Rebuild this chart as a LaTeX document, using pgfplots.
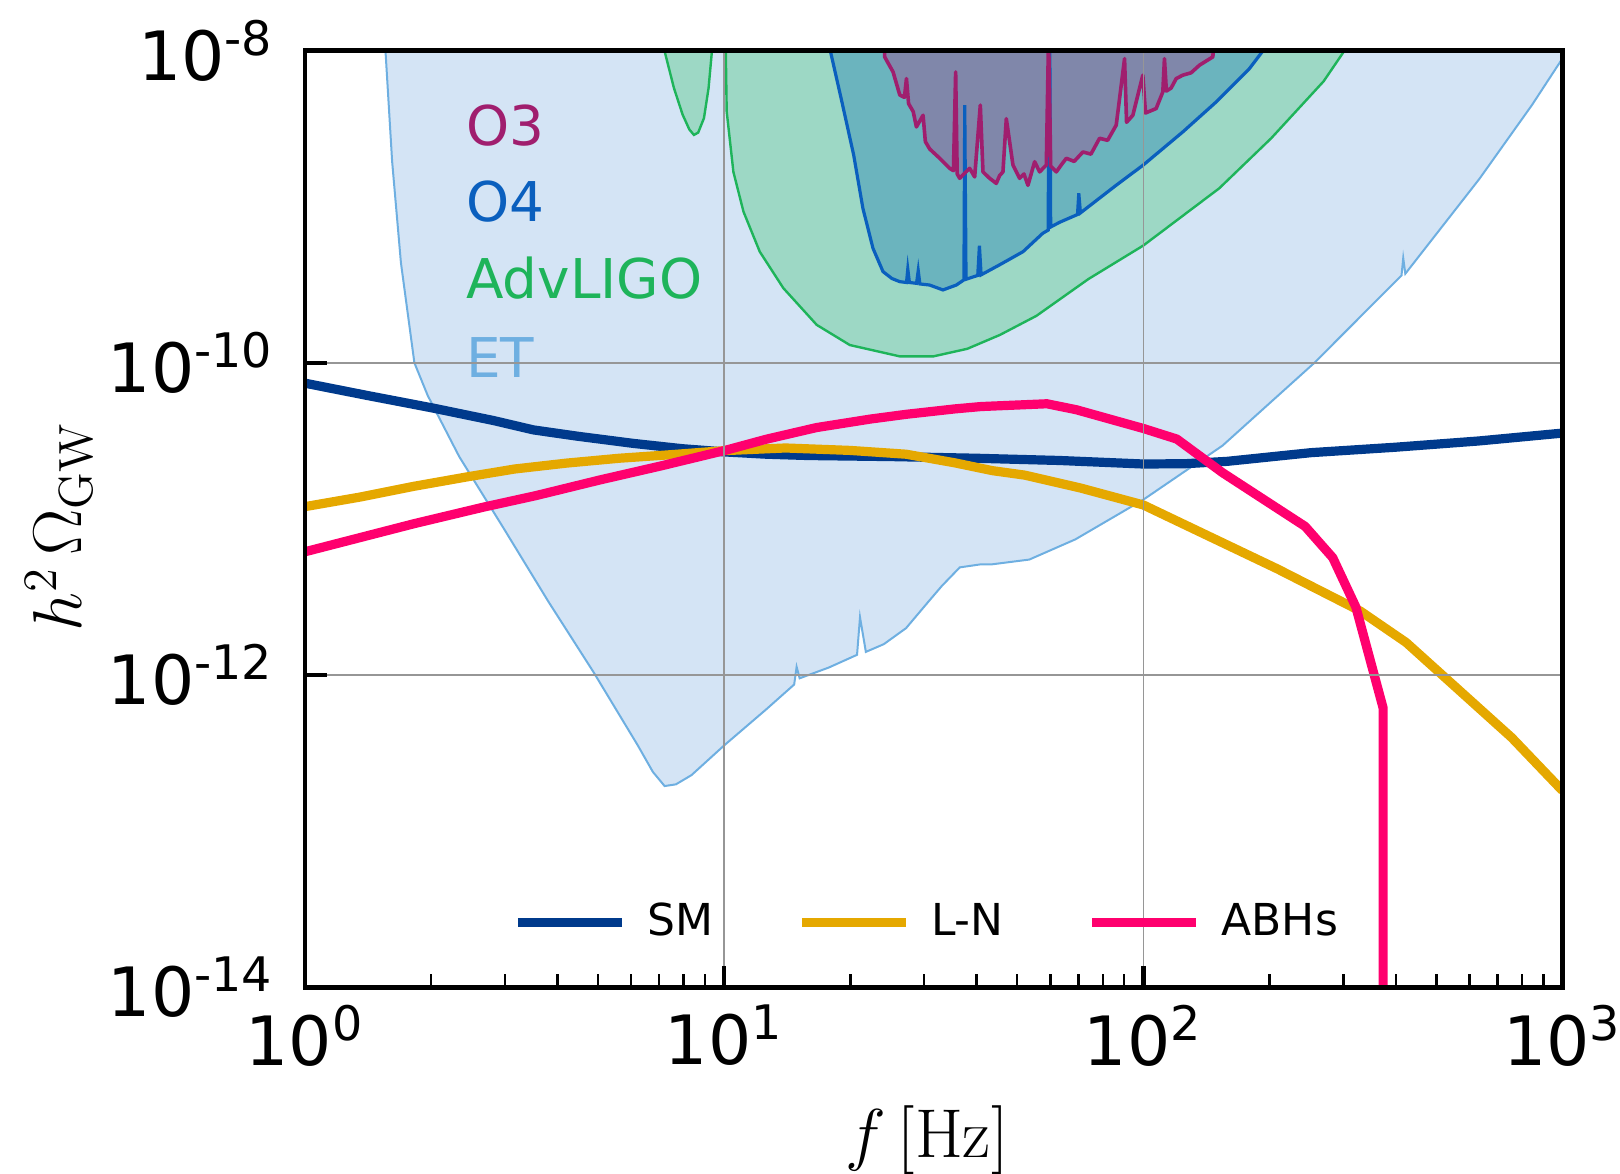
\documentclass[border=0pt]{standalone}
\usepackage[no-math]{fontspec}
\setmainfont{DejaVu Sans}
\usepackage{pgfplots}
\usepackage{pgfplotstable}
\pgfplotsset{compat=1.18}

\definecolor{etfill}{HTML}{D4E4F5}
\definecolor{etedge}{HTML}{6EAFE1}
\definecolor{ligofill}{HTML}{9DD8C5}
\definecolor{ligoedge}{HTML}{1EB45A}
\definecolor{ofourfill}{HTML}{6BB4BE}
\definecolor{ofouredge}{HTML}{0A5FBE}
\definecolor{othreefill}{HTML}{8087AA}
\definecolor{othreeedge}{HTML}{A01E6E}
\definecolor{smc}{HTML}{003A8C}
\definecolor{lnc}{HTML}{E5A800}
\definecolor{abhc}{HTML}{FF006E}

\pgfplotstableread{
f o
17.58 3.16e-8
17.91 1.0e-8
19.1 4.68e-9
20.37 2.14e-9
21.43 9.75e-10
22.65 5.41e-10
23.93 3.84e-10
25.12 3.47e-10
26.24 3.31e-10
27.23 3.27e-10
27.42 3.98e-10
27.67 3.27e-10
28.77 3.23e-10
29.04 3.89e-10
29.31 3.2e-10
30.9 3.15e-10
33.27 2.93e-10
35.81 3.15e-10
37.33 3.4e-10
37.5 4.47e-9
37.76 3.43e-10
40.27 3.63e-10
40.64 5.62e-10
41.02 3.66e-10
45.39 4.24e-10
51.64 5.15e-10
57.54 6.75e-10
59.29 7.08e-10
59.7 3.16e-8
60.12 7.41e-10
63.1 7.94e-10
69.66 8.91e-10
70.15 1.22e-9
70.79 9.12e-10
86.1 1.37e-9
100 1.85e-9
124.2 3.01e-9
149.3 4.69e-9
179.1 7.66e-9
193.2 1.0e-8
208.9 3.16e-8
}\ofour

\pgfplotstableread{
f o
23.88 3.16e-8
24.15 9.10e-9
25.29 7.29e-9
26.24 5.19e-9
26.92 5.01e-9
27.22 6.61e-9
27.54 4.57e-9
28.25 4.06e-9
28.75 3.24e-9
29.82 3.85e-9
30.2 2.61e-9
30.93 2.34e-9
32.68 2.04e-9
34.51 1.76e-9
35.24 1.70e-9
35.67 7.29e-9
35.97 1.62e-9
36.47 1.52e-9
37.5 1.64e-9
38.52 1.76e-9
39.6 1.55e-9
40.84 4.47e-9
41.44 1.67e-9
42.98 1.52e-9
44.59 1.41e-9
45.4 1.58e-9
46.25 1.67e-9
47.11 3.66e-9
48.86 1.85e-9
50.68 1.52e-9
51.9 1.62e-9
53.06 1.37e-9
55.04 1.94e-9
56.58 1.67e-9
58.69 1.85e-9
59.43 1.26e-8
60.12 1.82e-9
62.0 1.67e-9
63.8 1.86e-9
65.5 2.04e-9
68.4 1.95e-9
71.76 2.24e-9
75.0 2.17e-9
78.64 2.74e-9
82.2 2.66e-9
86.17 3.33e-9
90.20 8.87e-9
91.2 3.47e-9
94.41 3.85e-9
99.72 6.95e-9
101.2 3.98e-9
107.3 4.25e-9
111.3 5.43e-9
112.3 8.87e-9
113.5 5.50e-9
116.5 5.75e-9
119.8 6.61e-9
124.2 6.95e-9
130.0 7.20e-9
136.1 8.05e-9
146.5 9.10e-9
151.4 3.16e-8
}\othree

\newcommand\tickfont{\fontsize{17}{20}\selectfont}

\begin{document}
\begin{tikzpicture}
\path[use as bounding box] (-76.25pt,-46.625pt) rectangle (328.75pt,246.875pt);
\begin{axis}[
  scale only axis,
  width=314.375pt, height=234.25pt,
  xmode=log, ymode=log,
  xmin=1, xmax=1000, ymin=1e-14, ymax=1e-8,
  axis on top,
  xtick={1,10,100,1000},
  xticklabels={10\textsuperscript{0},10\textsuperscript{1},10\textsuperscript{2},10\textsuperscript{3}},
  minor xtick={2,3,4,5,6,7,8,9,20,30,40,50,60,70,80,90,200,300,400,500,600,700,800,900},
  ytick={1e-14,1e-12,1e-10,1e-8},
  yticklabels={10\textsuperscript{-14},10\textsuperscript{-12},10\textsuperscript{-10},10\textsuperscript{-8}},
  yminorticks=false,
  tick pos=left,
  tick align=inside,
  major tick length=5.5pt,
  minor tick length=3.3pt,
  major tick style={line width=1.1pt, black},
  minor tick style={line width=0.6pt, black},
  axis line style={line width=1.2pt},
  grid=major,
  major grid style={draw={rgb,255:red,150;green,150;blue,150}, line width=0.4pt},
  xticklabel style={font=\tickfont, inner sep=0pt, yshift=-4.1pt},
  yticklabel style={font=\tickfont, inner sep=0pt, xshift=-7.5pt},
  every axis y label/.style={at={(axis description cs:-0.1956,0.492)}, rotate=90, anchor=center, font=\fontsize{17}{20}\selectfont},
  every axis x label/.style={at={(axis description cs:0.4946,-0.181)}, anchor=base, font=\fontsize{16}{19}\selectfont},
  xlabel={$f\,[\mathrm{Hz}]$},
  ylabel={$h^{2}\,\Omega_{\mathrm{GW}}$},
  legend columns=3,
  legend style={draw=none, fill=none, at={(rel axis cs:0.165,0.0696)}, anchor=west,
    font=\fontsize{11}{13}\selectfont, column sep=5.2pt,
    /tikz/every even column/.append style={column sep=21pt},
    inner sep=0pt, nodes={inner sep=0pt}},
  legend image code/.code={\draw[#1] (0pt,0pt) -- (26pt,0pt);},
]
% ET
\addplot[fill=etfill, draw=etedge, line width=0.5pt, forget plot] coordinates {
(1.531,3.16e-8) (1.556,1.0e-8) (1.614,1.95e-9) (1.694,4.37e-10) (1.824,1.0e-10)
(1.963,6.17e-11) (2.333,2.51e-11) (2.979,8.71e-12) (3.811,2.95e-12) (4.875,1.05e-12)
(6.223,3.55e-13) (6.761,2.40e-13) (7.211,1.95e-13) (7.674,2.00e-13) (8.356,2.29e-13)
(10,3.55e-13) (12.59,6.03e-13) (14.69,8.71e-13) (14.89,1.13e-12) (15.14,9.55e-13)
(17.78,1.12e-12) (20.75,1.35e-12) (21.09,2.35e-12) (21.78,1.41e-12) (24.04,1.58e-12)
(27.16,2.0e-12) (30.69,2.95e-12) (33.04,3.72e-12) (36.48,4.9e-12) (41.02,5.13e-12)
(43.65,5.13e-12) (53.46,5.5e-12) (68.87,7.41e-12) (100,1.33e-11) (154.5,2.95e-11)
(255.9,1.0e-10) (413,3.63e-10) (416.9,4.68e-10) (421.7,3.72e-10) (633.9,1.51e-9)
(845.3,4.47e-9) (1000,8.91e-9) (1122,1.26e-8)
} -- cycle;
% AdvLIGO
\addplot[fill=ligofill, draw=ligoedge, line width=0.6pt, forget plot] coordinates {
(7.0,1e-7) (7.21,9.9e-9) (7.59,5.75e-9) (7.96,3.89e-9) (8.26,3.12e-9) (8.47,2.88e-9)
(8.67,2.98e-9) (8.95,3.69e-9) (9.18,5.75e-9) (9.35,9.9e-9) (9.66,1e-7) (9.89,1e-7)
(10.09,9.9e-9) (10.14,4.06e-9) (10.52,1.67e-9) (11.12,9.29e-10) (12.16,5.15e-10)
(13.84,3.01e-10) (16.63,1.75e-10) (19.95,1.30e-10) (26.24,1.10e-10) (31.55,1.10e-10)
(38.02,1.23e-10) (45.5,1.51e-10) (55.59,2.0e-10) (73.96,3.44e-10) (100,5.64e-10)
(151.7,1.31e-9) (201.8,2.74e-9) (269.2,6.35e-9) (301.3,9.9e-9) (354.8,1.58e-8)
} -- cycle;
% O4 and O3 fills
\addplot[fill=ofourfill, draw=none, forget plot] table[x=f, y=o] {\ofour} -- cycle;
\addplot[fill=othreefill, draw=none, forget plot] table[x=f, y=o] {\othree} -- cycle;
\addplot[ofouredge, line width=0.8pt, forget plot] table[x=f, y=o] {\ofour};
\addplot[othreeedge, line width=0.9pt, line join=round, forget plot] table[x=f, y=o] {\othree};

% labels
\node[anchor=base west, inner sep=0pt, text=othreeedge, font=\fontsize{13.7}{16}\selectfont] at (axis cs:2.415,2.48e-9) {O3};
\node[anchor=base west, inner sep=0pt, text=ofouredge, font=\fontsize{13.7}{16}\selectfont] at (axis cs:2.415,8.02e-10) {O4};
\node[anchor=base west, inner sep=0pt, text=ligoedge, font=\fontsize{13.7}{16}\selectfont] at (axis cs:2.415,2.60e-10) {AdvLIGO};
\node[anchor=base west, inner sep=0pt, text=etedge, font=\fontsize{13.7}{16}\selectfont] at (axis cs:2.415,8.0e-11) {ET};

% SM
\addplot[smc, line width=2.3pt, line join=round] coordinates {
(1,7.41e-11) (1.413,6.17e-11) (2.023,5.13e-11) (2.818,4.27e-11) (3.508,3.72e-11)
(4.467,3.39e-11) (6.067,3.05e-11) (7.943,2.82e-11) (10,2.69e-11) (12.59,2.60e-11)
(15.85,2.55e-11) (25.12,2.51e-11) (39.81,2.45e-11) (63.1,2.37e-11) (100,2.25e-11)
(125.9,2.26e-11) (158.5,2.34e-11) (251.2,2.66e-11) (398.1,2.88e-11) (631,3.16e-11)
(1000,3.55e-11)
};
\addlegendentry{SM}
% L-N
\addplot[lnc, line width=2.3pt, line join=round] coordinates {
(1,1.20e-11) (1.349,1.38e-11) (1.82,1.62e-11) (2.432,1.86e-11) (3.162,2.09e-11)
(4.207,2.28e-11) (5.623,2.45e-11) (7.295,2.57e-11) (10,2.74e-11) (14.0,2.85e-11)
(19.95,2.75e-11) (27.16,2.60e-11) (35.48,2.29e-11) (43.65,2.04e-11) (52.12,1.91e-11)
(70.79,1.58e-11) (100,1.23e-11) (208.9,4.79e-12) (329.6,2.57e-12) (423.6,1.62e-12)
(756.8,3.98e-13) (1000,1.82e-13)
};
\addlegendentry{L-N}
% ABHs
\addplot[abhc, line width=2.3pt, line join=round] coordinates {
(1,6.17e-12) (1.82,9.33e-12) (2.661,1.19e-11) (3.548,1.41e-11) (5.058,1.78e-11)
(7.079,2.19e-11) (10,2.74e-11) (12.59,3.24e-11) (16.6,3.85e-11) (22.39,4.37e-11)
(27.16,4.68e-11) (35.48,5.07e-11) (41.02,5.25e-11) (58.88,5.47e-11) (69.18,5.01e-11)
(100,3.80e-11) (120.2,3.25e-11) (154.5,1.98e-11) (243.2,8.97e-12) (283.1,5.65e-12)
(321.4,2.73e-12) (373.3,6.17e-13) (373.3,1e-16)
};
\addlegendentry{ABHs}
\end{axis}
\end{tikzpicture}
\end{document}
